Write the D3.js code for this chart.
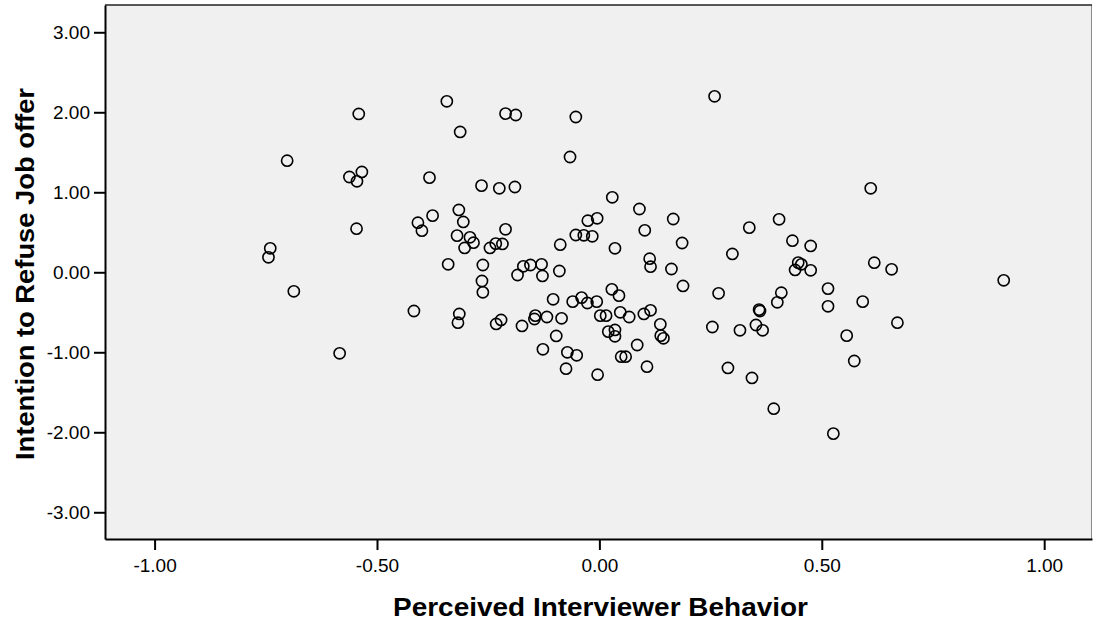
<!DOCTYPE html>
<html>
<head>
<meta charset="utf-8">
<script src="https://cdn.jsdelivr.net/npm/d3@7"></script>
<style>
html,body{margin:0;padding:0;background:#fff;}
svg{display:block;}
text{font-family:"Liberation Sans",Arial,sans-serif;fill:#000;}
</style>
</head>
<body>
<svg id="chart" width="1093" height="626"></svg>
<script>
// Perceived Interviewer Behavior (x) values
const behavior = [
-0.702,-0.541,-0.562,-0.534,-0.545,-0.546,-0.740,-0.744,-0.687,-0.584,
-0.343,-0.313,-0.211,-0.188,-0.053,-0.066,0.259,-0.382,-0.265,-0.225,
-0.190,0.029,0.090,0.166,0.337,0.404,0.434,-0.408,-0.399,-0.375,
-0.316,-0.306,-0.320,-0.291,-0.283,-0.303,-0.211,-0.246,-0.233,-0.218,
-0.088,-0.026,-0.005,-0.053,-0.035,-0.016,0.035,0.102,0.186,0.299,
0.113,0.115,0.162,0.188,0.268,0.409,-0.340,-0.262,-0.264,-0.262,
-0.171,-0.155,-0.130,-0.184,-0.128,-0.090,-0.104,
0.475,0.447,0.454,0.440,0.475,0.618,0.657,0.400,0.514,0.514,
0.592,0.359,0.361,0.670,0.316,0.352,0.367,0.556,0.573,0.289,
0.343,0.392,0.526,0.909,0.610,
-0.417,-0.315,-0.318,-0.232,-0.221,-0.174,-0.144,-0.146,-0.118,-0.085,
-0.097,-0.127,-0.072,-0.075,-0.060,-0.040,-0.027,-0.006,0.028,0.044,
0.002,0.015,0.047,0.067,0.100,0.115,0.020,0.035,0.035,0.085,
0.137,0.138,0.144,0.254,-0.051,-0.004,0.049,0.059,0.107
];
// Intention to Refuse Job offer (y) values
const intention = [
1.395,1.979,1.191,1.254,1.137,0.545,0.300,0.187,-0.238,-1.013,
2.137,1.754,1.983,1.966,1.941,1.441,2.200,1.183,1.083,1.050,
1.066,0.937,0.791,0.666,0.558,0.662,0.395,0.620,0.520,0.708,
0.779,0.629,0.458,0.437,0.370,0.304,0.537,0.304,0.358,0.354,
0.345,0.645,0.675,0.466,0.462,0.450,0.300,0.525,0.366,0.229,
0.170,0.070,0.041,-0.171,-0.263,-0.255,0.100,0.091,-0.109,-0.250,
0.075,0.091,0.100,-0.034,-0.046,0.016,-0.338,
0.329,0.121,0.100,0.029,0.025,0.120,0.037,-0.375,-0.204,-0.425,
-0.367,-0.467,-0.484,-0.630,-0.725,-0.659,-0.725,-0.792,-1.109,-1.196,
-1.321,-1.705,-2.017,-0.100,1.050,
-0.484,-0.521,-0.630,-0.646,-0.596,-0.671,-0.542,-0.584,-0.559,-0.575,
-0.796,-0.963,-1.000,-1.205,-0.367,-0.317,-0.384,-0.367,-0.213,-0.292,
-0.542,-0.542,-0.500,-0.559,-0.521,-0.475,-0.742,-0.721,-0.800,-0.909,
-0.650,-0.792,-0.825,-0.684,-1.038,-1.280,-1.055,-1.055,-1.180
];
const xTicks = [-1.00,-0.50,0.00,0.50,1.00];
const yTicks = [-3.00,-2.00,-1.00,0.00,1.00,2.00,3.00];
const xTitle = "Perceived Interviewer Behavior";
const yTitle = "Intention to Refuse Job offer";

const points = behavior.map((b,i)=>({x:b,y:intention[i]}));

const L=105, R=1092, T=5, B=539;
const x = d3.scaleLinear().domain([-1.1115,1.1075]).range([L,R]);
const y = d3.scaleLinear().domain([-3.334,3.341]).range([B,T]);

const svg = d3.select("#chart");

svg.append("rect").attr("x",L).attr("y",T).attr("width",R-L).attr("height",B-T)
  .attr("fill","#f0f0f0");

// right border (thin grey)
svg.append("line").attr("x1",R-0.5).attr("x2",R-0.5).attr("y1",T).attr("y2",B)
  .attr("stroke","#8a8a8a").attr("stroke-width",1);

// points
svg.append("g").selectAll("circle").data(points).join("circle")
  .attr("cx",d=>x(d.x)).attr("cy",d=>y(d.y)).attr("r",5.6)
  .attr("fill","none").attr("stroke","#000").attr("stroke-width",1.6);

// top border
svg.append("line").attr("x1",L).attr("x2",R).attr("y1",T).attr("y2",T)
  .attr("stroke","#222").attr("stroke-width",1.6);

const fmt = v => d3.format(".2f")(v).replace("\u2212","-");
const FONT = "'Liberation Sans',Arial,sans-serif";

const xAxis = d3.axisBottom(x).tickValues(xTicks).tickFormat(fmt).tickSizeInner(11).tickSizeOuter(0);
const gx = svg.append("g").attr("transform",`translate(0,${B})`).call(xAxis);
gx.attr("font-family",FONT).attr("font-size",19);
gx.select(".domain").attr("stroke","#000").attr("stroke-width",2);
gx.selectAll(".tick line").attr("stroke","#000").attr("stroke-width",2);
gx.selectAll(".tick text").attr("y",33).attr("dy",0).attr("fill","#000");

const yAxis = d3.axisLeft(y).tickValues(yTicks).tickFormat(fmt).tickSizeInner(11).tickSizeOuter(0);
const gy = svg.append("g").attr("transform",`translate(${L},0)`).call(yAxis);
gy.attr("font-family",FONT).attr("font-size",19);
gy.select(".domain").attr("stroke","#000").attr("stroke-width",2);
gy.selectAll(".tick line").attr("stroke","#000").attr("stroke-width",2);
gy.selectAll(".tick text").attr("x",-15).attr("dy","0.34em").attr("fill","#000");

svg.append("text").attr("x",600.5).attr("y",616).attr("text-anchor","middle")
  .attr("font-size",26).attr("font-weight","bold")
  .attr("textLength",415).attr("lengthAdjust","spacingAndGlyphs").text(xTitle);

svg.append("text").attr("transform",`translate(34,${274}) rotate(-90)`).attr("text-anchor","middle")
  .attr("font-size",25.5).attr("font-weight","bold")
  .attr("textLength",372).attr("lengthAdjust","spacingAndGlyphs").text(yTitle);
</script>
</body>
</html>
